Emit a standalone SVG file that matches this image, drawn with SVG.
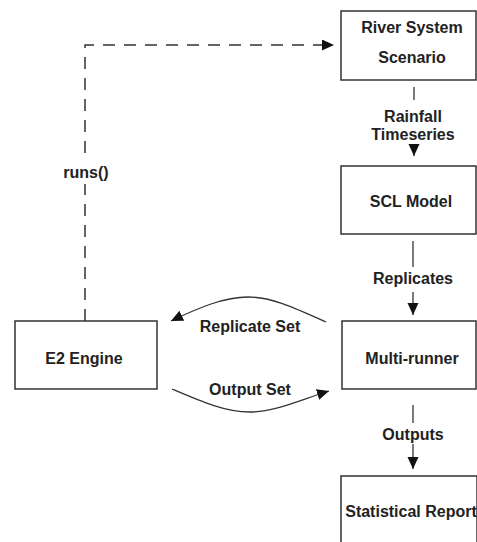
<svg xmlns="http://www.w3.org/2000/svg" width="477" height="542" viewBox="0 0 477 542">
<style>
.box{fill:#fff;stroke:#333;stroke-width:1.5}
.t{font-family:"Liberation Sans",Arial,sans-serif;font-weight:bold;font-size:16px;fill:#222;text-anchor:middle}
.c{fill:none;stroke:#333;stroke-width:1.3}
.d{fill:none;stroke:#333;stroke-width:1.5;stroke-dasharray:12,9}
</style>
<defs>
<marker id="ah" markerUnits="userSpaceOnUse" markerWidth="13" markerHeight="12" refX="12" refY="5.5" orient="auto">
<path d="M0,0 L12,5.5 L0,11 z" fill="#111"/>
</marker>
</defs>
<rect width="477" height="542" fill="#fff"/>
<g id="connectors">
<path class="d" d="M85,321 V45 H334" marker-end="url(#ah)"/>
<rect x="60" y="162" width="52" height="22" fill="#fff"/>
<text class="t" x="86" y="178">runs()</text>
<line class="c" x1="414" y1="87" x2="414" y2="100"/>
<line class="c" x1="414" y1="145" x2="414" y2="156" marker-end="url(#ah)"/>
<text class="t" x="413" y="122">Rainfall</text>
<text class="t" x="413" y="140">Timeseries</text>
<line class="c" x1="413" y1="241" x2="413" y2="267"/>
<line class="c" x1="413" y1="292" x2="413" y2="315" marker-end="url(#ah)"/>
<text class="t" x="413" y="284">Replicates</text>
<line class="c" x1="413" y1="405" x2="413" y2="423"/>
<line class="c" x1="413" y1="444" x2="413" y2="469" marker-end="url(#ah)"/>
<text class="t" x="413" y="440">Outputs</text>
<path class="c" d="M326,322 C295,308 272,297 248,297 C225,297 200,307 171,321" marker-end="url(#ah)"/>
<text class="t" x="250" y="332">Replicate Set</text>
<path class="c" d="M172,389 C200,401 225,412 250,412 C275,412 300,400 329,391" marker-end="url(#ah)"/>
<text class="t" x="250" y="395">Output Set</text>
</g>
<g id="river">
<rect class="box" x="341" y="11" width="135" height="69"/>
<text class="t" x="412" y="33">River System</text>
<text class="t" x="412" y="63">Scenario</text>
</g>
<g id="scl">
<rect class="box" x="341" y="166" width="135" height="68"/>
<text class="t" x="411" y="207">SCL Model</text>
</g>
<g id="multirunner">
<rect class="box" x="342" y="321" width="134" height="68"/>
<text class="t" x="412" y="364">Multi-runner</text>
</g>
<g id="e2">
<rect class="box" x="15" y="321" width="142" height="68"/>
<text class="t" x="84" y="364">E2 Engine</text>
</g>
<g id="report">
<rect class="box" x="341" y="476" width="136" height="80"/>
<text class="t" x="411" y="517">Statistical Report</text>
</g>
</svg>
